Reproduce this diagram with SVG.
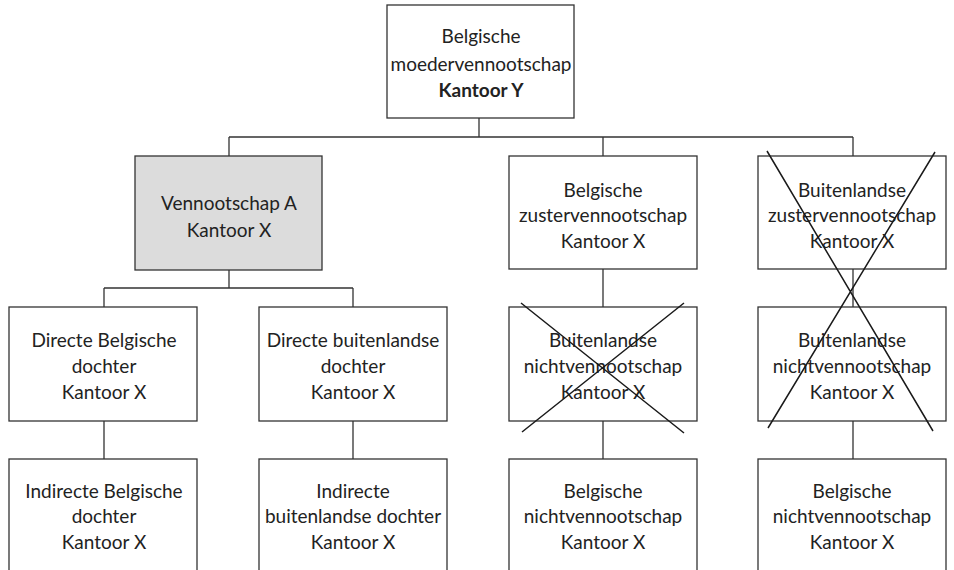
<svg xmlns="http://www.w3.org/2000/svg" width="954" height="570" viewBox="0 0 954 570">
<style>
.box{fill:#fff;stroke:#333;stroke-width:1.3}
.grey{fill:#dcdcdc}
.t{font-family:Lato,"Liberation Sans",sans-serif;font-size:19px;fill:#222;text-anchor:middle}
.b{font-weight:bold}
.c{stroke:#333;stroke-width:1.3;fill:none}
.x{stroke:#1a1a1a;stroke-width:1.5;fill:none}
</style>
<rect width="954" height="570" fill="#fff"/>
<g id="connectors">
<path class="c" d="M479 118V137M229 137H853M229 137V156M603 137V156M853 137V156M229 270V288M104 288H353M104 288V307M353 288V307M603 269V307M853 269V307M104 421V459M353 421V459M603 421V459M853 421V459"/>
</g>
<g id="moeder">
<rect class="box" x="387" y="5" width="187" height="113"/>
<text class="t" x="481" y="43">Belgische</text>
<text class="t" x="481" y="71">moedervennootschap</text>
<text class="t b" x="481" y="97">Kantoor Y</text>
</g>
<g id="vennootschapA">
<rect class="box grey" x="135" y="156" width="187" height="114"/>
<text class="t" x="229" y="210">Vennootschap A</text>
<text class="t" x="229" y="237">Kantoor X</text>
</g>
<g id="belg-zuster">
<rect class="box" x="509" y="156" width="188" height="113"/>
<text class="t" x="603" y="197">Belgische</text>
<text class="t" x="603" y="222">zustervennootschap</text>
<text class="t" x="603" y="248">Kantoor X</text>
</g>
<g id="buit-zuster">
<rect class="box" x="758" y="156" width="188" height="113"/>
<text class="t" x="852" y="197">Buitenlandse</text>
<text class="t" x="852" y="222">zustervennootschap</text>
<text class="t" x="852" y="248">Kantoor X</text>
</g>
<g id="dir-belg">
<rect class="box" x="9" y="307" width="188" height="114"/>
<text class="t" x="104" y="347">Directe Belgische</text>
<text class="t" x="104" y="373">dochter</text>
<text class="t" x="104" y="399">Kantoor X</text>
</g>
<g id="dir-buit">
<rect class="box" x="259" y="307" width="188" height="114"/>
<text class="t" x="353" y="347">Directe buitenlandse</text>
<text class="t" x="353" y="373">dochter</text>
<text class="t" x="353" y="399">Kantoor X</text>
</g>
<g id="buit-nicht1">
<rect class="box" x="509" y="307" width="188" height="114"/>
<text class="t" x="603" y="347">Buitenlandse</text>
<text class="t" x="603" y="373">nichtvennootschap</text>
<text class="t" x="603" y="399">Kantoor X</text>
<path class="x" d="M521 303L684 433M684 303L522 432"/>
</g>
<g id="buit-nicht2">
<rect class="box" x="758" y="307" width="188" height="114"/>
<text class="t" x="852" y="347">Buitenlandse</text>
<text class="t" x="852" y="373">nichtvennootschap</text>
<text class="t" x="852" y="399">Kantoor X</text>
</g>
<g id="cross-right">
<path class="x" d="M767 151L933 431M935 152L768 428"/>
</g>
<g id="ind-belg">
<rect class="box" x="9" y="459" width="188" height="120"/>
<text class="t" x="104" y="498">Indirecte Belgische</text>
<text class="t" x="104" y="523">dochter</text>
<text class="t" x="104" y="549">Kantoor X</text>
</g>
<g id="ind-buit">
<rect class="box" x="259" y="459" width="188" height="120"/>
<text class="t" x="353" y="498">Indirecte</text>
<text class="t" x="353" y="523">buitenlandse dochter</text>
<text class="t" x="353" y="549">Kantoor X</text>
</g>
<g id="belg-nicht1">
<rect class="box" x="509" y="459" width="188" height="120"/>
<text class="t" x="603" y="498">Belgische</text>
<text class="t" x="603" y="523">nichtvennootschap</text>
<text class="t" x="603" y="549">Kantoor X</text>
</g>
<g id="belg-nicht2">
<rect class="box" x="758" y="459" width="188" height="120"/>
<text class="t" x="852" y="498">Belgische</text>
<text class="t" x="852" y="523">nichtvennootschap</text>
<text class="t" x="852" y="549">Kantoor X</text>
</g>
</svg>
